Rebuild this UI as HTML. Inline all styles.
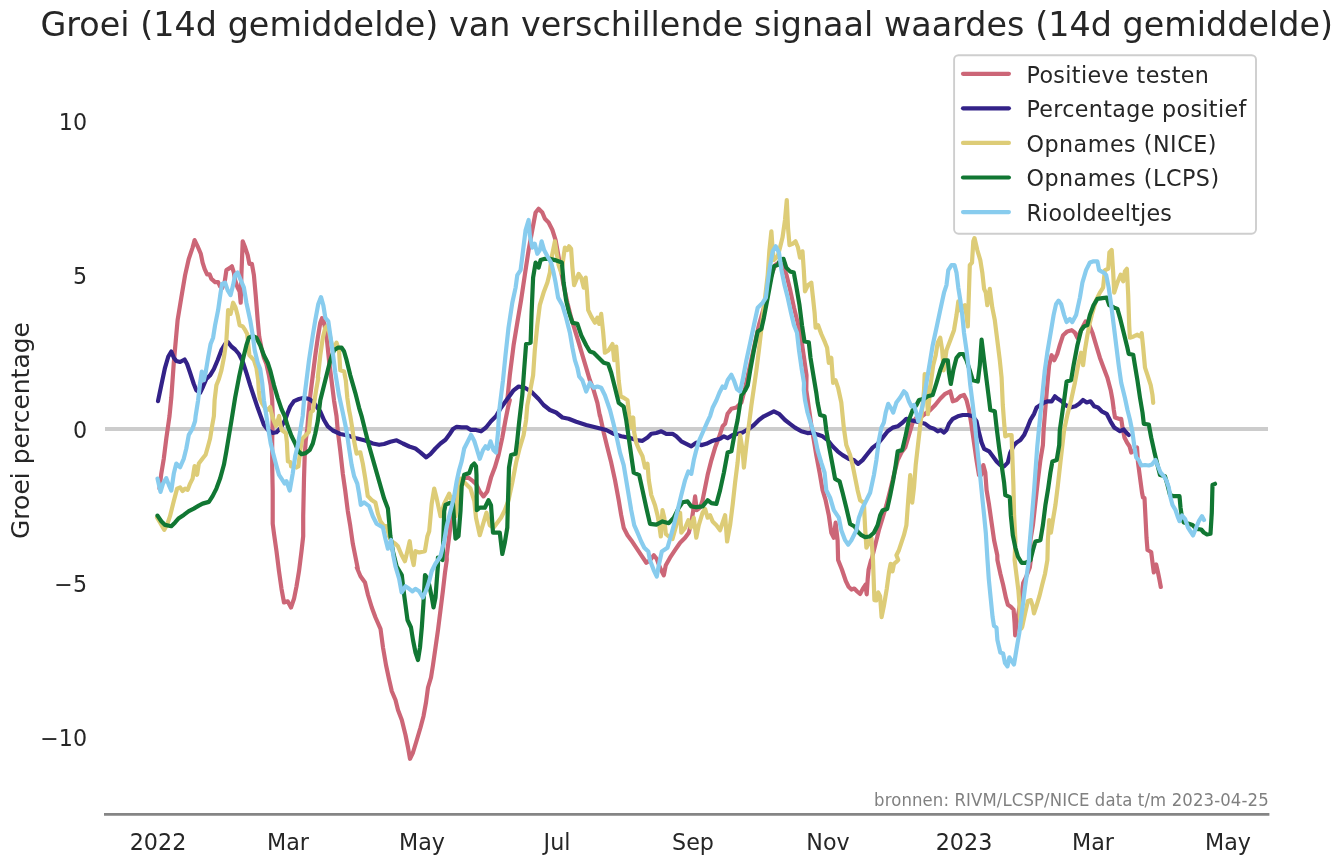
<!DOCTYPE html>
<html lang="nl"><head><meta charset="utf-8"><title>Groei signaal waardes</title>
<style>html,body{margin:0;padding:0;background:#fff;width:1342px;height:864px;overflow:hidden}</style>
</head><body>
<svg width="1342" height="864" viewBox="0 0 1342 864" style="display:block;font-family:'DejaVu Sans','Liberation Sans',sans-serif">
<rect width="1342" height="864" fill="#fff"/>
<text id="title" x="686.8" y="35.6" font-size="33.33" letter-spacing="0.045" text-anchor="middle" fill="#262626">Groei (14d gemiddelde) van verschillende signaal waardes (14d gemiddelde)</text>
<line x1="105" y1="429" x2="1268" y2="429" stroke="#cccccc" stroke-width="4"/>
<path d="M159.5,488.6 L161.3,473.6 L163.8,458.6 L166.3,438.5 L168.8,421.0 L169.5,416.1 L171.3,397.8 L173.8,362.7 L177.6,320.2 L181.3,297.6 L185.1,275.1 L188.8,258.8 L192.6,247.6 L194.6,240.1 L197.6,246.3 L200.8,253.8 L202.6,262.6 L204.6,268.9 L207.1,274.4 L209.6,274.4 L211.4,278.9 L215.1,282.1 L218.1,282.1 L220.1,286.4 L222.1,288.1 L224.6,282.6 L226.4,270.1 L229.6,268.1 L231.9,266.3 L233.9,272.6 L235.1,280.1 L237.6,287.6 L239.6,291.4 L240.7,302.7 L241.4,275.1 L242.7,241.3 L245.2,247.6 L247.7,255.1 L249.4,263.8 L251.9,263.8 L253.9,275.1 L255.7,295.1 L257.7,320.2 L259.2,336.5 L261.4,347.7 L263.9,357.7 L266.4,364.0 L268.9,375.3 L270.7,385.3 L272.2,400.3 L272.7,416.1 L272.2,441.0 L272.2,466.1 L272.7,491.1 L272.7,523.7 L274.0,533.7 L276.5,551.2 L279.0,571.2 L281.5,588.8 L284.0,602.5 L287.7,601.3 L291.0,607.5 L294.0,598.8 L296.5,586.3 L299.0,571.2 L301.5,551.2 L303.2,536.2 L303.2,516.2 L304.0,478.6 L304.7,456.1 L305.7,441.0 L307.3,428.5 L308.3,416.0 L310.3,395.3 L312.8,375.3 L315.3,355.2 L317.8,337.7 L320.3,322.7 L322.0,318.2 L324.0,322.7 L326.5,335.2 L329.0,360.2 L331.5,380.3 L334.0,400.3 L336.5,416.1 L337.8,431.0 L340.3,451.1 L342.8,473.6 L345.3,491.1 L347.8,511.1 L350.3,526.2 L352.8,543.7 L355.3,556.2 L357.8,568.7 L356.8,567.5 L360.5,576.2 L365.0,582.5 L368.0,595.0 L371.8,607.5 L375.5,617.5 L380.5,628.8 L383.0,647.5 L386.0,665.0 L389.2,680.0 L391.8,691.2 L395.5,700.0 L398.0,710.0 L401.8,720.0 L405.5,735.0 L408.0,747.5 L410.0,758.8 L413.0,752.5 L416.8,740.0 L420.5,727.5 L423.5,716.2 L426.0,702.5 L428.0,687.5 L431.0,677.5 L433.0,665.0 L435.5,647.5 L438.0,630.0 L440.5,610.0 L443.0,590.0 L445.0,572.5 L446.8,560.0 L446.7,556.2 L449.2,536.2 L451.7,516.2 L463.0,478.6 L468.0,477.3 L473.0,481.1 L476.0,483.9 L479.8,491.4 L483.5,496.4 L487.3,491.4 L491.0,477.6 L494.8,467.6 L498.5,455.1 L502.3,437.6 L505.5,420.0 L508.0,407.5 L509.8,400.0 L507.3,400.3 L509.8,375.3 L513.6,345.2 L517.3,322.7 L521.1,300.2 L524.8,275.1 L528.6,250.1 L532.3,230.0 L535.6,212.5 L538.6,208.8 L542.3,212.5 L544.9,218.8 L548.6,222.5 L552.4,230.0 L555.6,240.1 L557.4,250.1 L563.6,285.1 L567.4,302.7 L571.1,317.7 L574.9,330.2 L578.7,342.7 L582.4,355.2 L586.2,367.8 L589.9,380.3 L593.7,390.3 L597.4,402.8 L599.9,416.1 L599.9,415.0 L603.7,432.5 L607.4,447.6 L611.2,462.6 L615.0,480.1 L618.7,500.2 L621.2,515.2 L623.7,527.7 L627.5,535.2 L631.2,540.2 L636.2,547.7 L641.2,555.2 L646.3,562.7 L650.0,560.2 L653.8,555.2 L656.8,559.0 L660.0,567.8 L663.8,575.3 L665.8,565.2 L670.0,557.7 L675.0,550.2 L680.1,542.7 L685.1,537.7 L688.8,532.7 L691.3,522.7 L693.3,510.2 L695.1,496.4 L696.8,510.2 L700.1,507.7 L702.6,500.2 L705.1,487.6 L707.6,475.1 L711.4,460.1 L715.1,447.6 L718.9,437.6 L722.6,426.3 L725.1,423.8 L727.6,413.8 L731.4,408.8 L736.4,407.5 L741.4,402.5 L745.2,387.8 L758.9,325.2 L763.9,307.7 L767.7,292.6 L771.4,275.1 L775.2,265.1 L779.0,262.6 L782.7,265.1 L786.5,275.1 L790.2,290.1 L794.0,307.7 L797.7,322.7 L801.5,340.2 L804.0,357.7 L806.5,375.3 L806.3,390.0 L808.8,407.5 L811.3,425.1 L813.8,440.1 L816.3,455.1 L819.6,472.6 L822.6,490.2 L825.6,500.2 L828.8,515.2 L831.3,532.7 L833.8,537.7 L835.6,522.7 L837.6,540.2 L838.1,560.0 L841.9,569.5 L845.8,581.0 L848.6,586.7 L851.5,589.6 L854.3,588.6 L857.2,591.5 L860.1,594.0 L862.9,588.6 L865.4,584.8 L866.7,594.3 L867.7,579.1 L868.6,569.5 L871.1,560.0 L871.4,560.3 L873.9,550.2 L876.4,540.2 L878.9,530.2 L882.7,517.7 L886.4,505.2 L890.2,490.2 L893.9,475.1 L897.7,460.1 L901.4,452.6 L905.2,447.6 L908.9,435.1 L912.7,422.5 L916.5,417.5 L920.2,417.5 L925.2,413.8 L930.2,410.0 L935.2,405.0 L940.2,398.8 L945.2,393.8 L950.3,391.3 L952.8,401.3 L956.5,400.0 L960.3,396.3 L964.0,395.0 L966.5,400.0 L969.0,410.0 L971.5,425.1 L974.0,442.6 L976.5,460.1 L979.0,475.1 L981.1,475.1 L983.3,465.1 L985.3,472.6 L986.6,490.2 L989.1,505.2 L991.6,522.7 L994.1,540.2 L997.3,555.2 L997.4,560.0 L1000.3,573.4 L1003.1,584.8 L1006.0,598.2 L1007.9,604.8 L1010.8,606.7 L1013.6,609.6 L1014.6,623.0 L1015.2,635.4 L1016.5,623.0 L1021.3,598.2 L1023.2,582.9 L1026.0,577.2 L1029.8,567.6 L1030.8,560.0 L1030.4,540.2 L1032.9,525.2 L1035.4,502.7 L1037.9,480.1 L1040.4,460.1 L1042.9,445.1 L1043.6,430.3 L1045.6,405.3 L1047.3,385.2 L1049.1,365.2 L1051.6,355.2 L1054.3,360.2 L1057.3,353.9 L1059.8,345.2 L1063.1,335.2 L1067.3,331.4 L1071.6,330.2 L1074.9,332.7 L1077.4,337.7 L1081.1,330.2 L1085.6,321.4 L1089.9,326.4 L1092.4,332.7 L1096.1,345.2 L1099.9,357.7 L1103.6,367.7 L1107.4,377.7 L1110.7,390.2 L1112.5,400.0 L1113.8,410.0 L1115.0,417.5 L1118.8,418.8 L1121.2,418.8 L1122.5,427.5 L1124.5,437.5 L1127.0,442.5 L1129.5,446.2 L1131.2,452.5 L1134.5,450.0 L1137.0,447.5 L1138.0,462.5 L1140.0,477.5 L1142.0,492.5 L1143.0,497.5 L1144.5,498.0 L1145.5,517.5 L1146.5,537.5 L1147.5,550.0 L1151.2,552.0 L1152.5,562.5 L1153.8,572.5 L1156.2,564.5 L1158.0,572.5 L1159.5,580.0 L1160.8,587.0" fill="none" stroke="#CC6677" stroke-width="4.2" stroke-linejoin="round" stroke-linecap="round"/>
<path d="M158.0,401.1 L161.3,385.3 L165.0,367.8 L168.3,356.5 L171.3,351.5 L173.8,357.7 L176.3,361.0 L180.1,362.0 L184.6,359.5 L187.1,364.0 L190.1,372.8 L193.8,384.0 L196.3,390.3 L200.1,392.8 L203.1,386.5 L206.3,379.0 L210.1,375.3 L213.9,369.0 L217.6,360.2 L221.4,350.2 L225.1,344.0 L228.1,342.2 L231.4,346.5 L235.1,349.5 L238.9,354.0 L242.7,361.5 L246.4,372.8 L250.2,385.3 L253.9,396.5 L257.7,407.8 L260.7,416.1 L263.9,424.8 L267.7,429.8 L272.7,433.0 L276.5,432.3 L280.2,428.5 L283.2,423.5 L285.2,419.8 L287.7,412.8 L290.2,406.6 L294.0,401.1 L299.0,399.0 L304.0,397.8 L309.0,399.0 L312.8,401.6 L316.5,406.6 L320.3,411.6 L324.0,420.0 L327.8,426.3 L332.8,430.5 L340.3,434.0 L347.8,435.5 L355.3,438.0 L365.3,440.5 L372.8,443.5 L379.1,444.8 L384.1,444.0 L390.4,441.8 L396.6,440.3 L402.9,443.5 L409.2,446.5 L415.4,448.5 L420.4,452.3 L426.2,457.3 L430.4,454.1 L435.4,448.5 L440.5,443.5 L445.5,439.8 L449.2,434.8 L453.0,429.0 L456.7,426.8 L461.7,427.3 L466.7,427.3 L470.5,429.8 L476.0,429.8 L476.0,430.0 L481.0,431.3 L486.0,427.5 L491.0,421.3 L496.0,416.3 L501.0,407.8 L507.3,399.0 L513.6,390.3 L518.6,386.5 L524.8,387.8 L531.1,391.5 L538.6,399.0 L543.6,405.0 L549.9,410.0 L556.1,412.5 L562.4,417.5 L568.6,418.8 L576.2,421.8 L586.2,425.0 L596.2,427.5 L606.2,430.0 L613.7,433.8 L621.2,436.3 L628.7,437.6 L636.2,440.1 L642.5,440.8 L647.5,437.6 L651.3,433.8 L656.3,433.0 L661.3,431.3 L666.3,433.8 L672.5,433.8 L676.3,436.3 L681.3,441.3 L686.3,443.8 L691.3,446.3 L696.3,442.6 L701.3,445.1 L706.3,443.8 L711.4,441.3 L715.1,440.1 L720.1,438.8 L723.9,436.3 L727.6,438.1 L732.6,435.1 L737.6,433.8 L742.6,432.5 L748.9,428.8 L753.9,425.0 L758.9,420.0 L763.9,416.3 L768.9,413.8 L773.9,411.3 L779.0,413.8 L785.0,420.0 L790.0,423.8 L795.0,427.6 L801.3,431.3 L807.5,433.1 L812.5,432.6 L817.6,434.6 L822.6,436.3 L827.6,440.1 L832.6,446.3 L837.6,451.3 L842.6,455.1 L848.9,458.9 L853.9,460.1 L858.1,463.9 L862.6,460.1 L867.6,453.8 L872.6,447.6 L877.6,443.8 L882.7,437.6 L887.7,431.3 L892.7,427.6 L897.7,426.3 L902.7,422.5 L906.4,418.8 L910.2,420.0 L915.2,421.3 L920.2,422.5 L925.2,423.8 L930.2,427.6 L934.0,428.8 L937.7,431.3 L940.7,430.1 L944.0,432.6 L946.5,430.1 L949.0,423.8 L952.8,418.8 L957.8,416.3 L962.8,415.0 L967.8,415.0 L972.8,416.3 L976.5,421.3 L979.0,432.6 L981.6,442.6 L984.1,448.8 L989.1,451.3 L992.8,456.3 L996.6,461.4 L1000.3,465.1 L1004.1,466.4 L1007.8,462.6 L1010.3,452.6 L1014.1,445.1 L1016.6,442.6 L1020.4,440.1 L1024.1,435.1 L1027.9,426.3 L1030.4,420.0 L1034.1,413.8 L1036.6,407.5 L1040.4,405.0 L1044.1,402.5 L1047.9,401.3 L1051.7,401.3 L1054.9,396.3 L1057.9,398.8 L1061.7,401.3 L1065.4,405.0 L1070.4,407.5 L1075.4,406.3 L1079.2,403.8 L1083.0,400.0 L1086.7,402.5 L1090.5,401.3 L1094.2,406.3 L1098.0,407.5 L1101.7,411.3 L1106.7,413.8 L1110.5,421.3 L1114.3,427.6 L1116.2,428.8 L1120.0,431.2 L1123.8,429.5 L1126.2,432.5 L1128.8,435.0" fill="none" stroke="#332288" stroke-width="4.2" stroke-linejoin="round" stroke-linecap="round"/>
<path d="M157.0,517.4 L160.0,522.4 L164.3,529.9 L167.5,523.7 L170.0,516.2 L173.8,501.1 L177.1,488.6 L180.1,487.4 L182.6,491.1 L185.1,488.6 L187.6,489.9 L190.1,483.6 L192.6,478.6 L194.6,466.1 L197.1,474.8 L198.8,463.6 L202.6,458.6 L205.6,454.8 L208.1,446.0 L210.1,438.5 L212.1,426.0 L213.9,416.0 L214.6,400.3 L216.4,385.3 L218.9,379.0 L221.4,370.3 L223.9,357.7 L226.4,340.2 L227.6,320.2 L228.1,310.2 L230.6,313.9 L233.1,302.7 L235.6,307.7 L237.6,315.2 L239.6,325.2 L242.7,326.4 L245.2,330.2 L247.2,334.0 L248.2,344.0 L249.4,355.2 L253.9,360.2 L256.4,367.8 L258.2,380.3 L258.8,390.4 L259.8,398.8 L262.5,404.0 L266.5,410.5 L268.5,409.0 L270.2,407.1 L271.8,414.4 L273.4,419.6 L276.0,425.9 L277.5,421.7 L279.1,416.0 L280.1,423.8 L281.7,430.0 L285.9,433.2 L286.9,442.5 L287.4,453.0 L287.9,461.3 L290.5,462.3 L291.1,466.5 L293.5,465.0 L296.5,467.5 L298.4,466.5 L299.9,453.0 L301.5,442.5 L302.5,438.4 L306.7,434.2 L308.8,432.1 L309.8,421.7 L310.9,412.3 L313.0,410.7 L314.5,400.8 L316.1,390.4 L318.3,377.8 L317.8,377.8 L320.3,355.2 L322.8,337.7 L325.3,327.7 L327.8,325.2 L332.8,350.2 L336.5,342.7 L339.0,350.2 L340.3,370.3 L344.1,371.5 L345.8,380.3 L347.3,397.8 L349.1,410.3 L350.3,416.1 L352.3,428.5 L354.1,441.0 L356.6,453.6 L360.3,452.3 L362.8,463.6 L365.3,478.6 L367.8,496.1 L371.6,499.9 L375.4,502.4 L377.9,513.6 L380.4,521.2 L384.1,526.2 L386.6,526.2 L389.1,536.2 L391.6,541.2 L395.4,543.7 L397.9,546.2 L401.6,555.0 L404.9,561.2 L407.4,551.2 L409.7,541.2 L411.7,556.2 L413.7,565.0 L415.4,551.2 L419.2,552.5 L424.9,551.2 L427.4,536.2 L429.2,531.2 L431.7,503.6 L434.2,488.6 L436.7,498.6 L440.5,516.2 L444.2,503.6 L449.2,493.6 L451.7,501.1 L455.5,516.2 L458.5,491.1 L460.5,478.6 L465.5,483.6 L470.5,488.6 L474.3,501.1 L476.0,517.7 L479.8,535.2 L483.5,522.7 L486.5,512.7 L489.8,525.2 L493.5,527.7 L497.3,522.7 L501.0,517.7 L504.8,510.2 L508.5,500.2 L512.3,482.6 L516.1,462.6 L519.8,447.6 L523.6,435.1 L526.1,420.0 L527.3,405.3 L529.8,392.8 L533.1,375.3 L534.8,350.2 L537.3,325.2 L539.8,305.2 L543.6,292.6 L547.4,282.6 L549.9,272.6 L551.1,260.1 L553.1,250.1 L554.9,241.3 L556.6,252.6 L558.6,265.1 L561.1,272.6 L563.1,260.1 L564.9,247.6 L567.4,250.1 L569.1,246.3 L571.1,248.8 L572.4,267.6 L574.1,285.1 L578.7,273.9 L581.2,277.6 L583.7,287.6 L585.7,277.6 L586.9,290.1 L588.2,310.2 L591.2,316.4 L594.9,322.7 L597.4,317.7 L599.2,323.9 L601.2,313.9 L603.2,332.7 L604.9,352.7 L608.7,350.2 L612.5,344.0 L614.2,360.2 L616.2,346.5 L617.5,362.7 L618.7,380.3 L620.7,396.5 L623.7,397.8 L627.5,400.3 L629.2,415.0 L631.2,427.5 L633.2,417.5 L634.2,432.5 L636.2,442.6 L638.7,448.8 L642.5,456.3 L645.0,467.6 L647.5,463.8 L648.8,480.1 L651.3,495.1 L655.0,505.2 L657.5,515.2 L659.3,525.2 L660.8,536.5 L662.5,510.2 L664.3,517.7 L665.8,534.0 L668.8,536.5 L672.5,539.0 L676.3,525.2 L680.1,512.7 L681.3,532.7 L685.1,527.7 L688.3,520.2 L690.8,527.7 L693.8,517.7 L696.3,537.7 L698.8,525.2 L702.6,512.7 L705.1,508.9 L707.6,517.7 L710.1,515.2 L712.6,521.4 L716.4,525.2 L720.1,530.2 L722.6,522.7 L725.1,515.2 L727.1,541.5 L730.1,525.2 L732.6,505.2 L735.1,482.6 L737.6,462.6 L740.1,435.1 L742.6,450.1 L743.9,467.6 L746.4,445.1 L748.9,425.0 L751.4,405.3 L753.9,387.8 L756.4,370.3 L758.9,350.2 L767.7,275.1 L769.4,250.1 L771.4,231.3 L772.7,250.1 L773.9,260.1 L777.7,256.3 L780.0,247.6 L782.5,237.6 L785.0,220.0 L786.8,200.0 L788.0,227.6 L789.5,245.1 L792.5,243.8 L795.5,241.3 L798.0,247.6 L800.0,257.6 L802.5,251.3 L803.8,270.1 L805.0,291.4 L808.0,285.1 L811.3,282.6 L813.0,297.7 L814.6,312.7 L815.6,327.7 L818.1,325.2 L821.3,334.0 L825.1,342.7 L827.1,347.7 L828.8,362.8 L831.3,357.8 L833.1,382.8 L835.6,380.3 L838.1,387.8 L841.3,402.5 L843.8,427.6 L846.3,445.1 L850.1,455.1 L852.6,465.1 L855.1,477.6 L857.6,490.2 L860.1,500.2 L863.9,502.7 L865.1,527.7 L866.4,547.7 L868.9,542.7 L871.4,537.7 L873.0,560.0 L874.4,600.1 L876.3,600.4 L878.2,592.4 L880.1,596.2 L881.6,617.2 L883.9,605.8 L886.8,588.6 L889.1,571.4 L890.6,563.8 L892.5,571.4 L894.0,563.8 L896.3,561.9 L898.2,560.0 L896.4,555.2 L898.9,550.2 L901.4,542.7 L903.9,535.2 L906.4,525.2 L908.2,500.2 L910.2,475.1 L912.2,502.7 L914.0,487.6 L915.7,465.1 L917.7,447.6 L919.7,430.1 L921.5,415.0 L923.2,400.0 L924.0,390.3 L924.7,374.0 L925.5,375.3 L928.0,414.1 L930.2,387.8 L933.2,365.3 L935.7,355.2 L937.7,342.7 L940.2,337.7 L942.2,350.2 L943.7,370.3 L946.5,350.2 L950.3,340.2 L954.0,330.2 L956.5,315.2 L958.3,301.4 L960.3,310.2 L962.8,306.4 L964.8,305.2 L966.5,315.2 L967.8,326.5 L969.0,290.2 L969.8,265.1 L972.0,262.6 L973.3,241.3 L974.5,238.1 L977.3,250.1 L980.3,260.1 L982.3,272.6 L984.1,288.9 L985.8,292.7 L987.3,305.2 L989.8,288.9 L992.3,307.7 L994.8,320.2 L997.3,340.2 L999.8,360.3 L1001.6,377.8 L1002.8,405.0 L1004.1,422.5 L1005.3,436.3 L1008.3,435.1 L1011.6,435.1 L1012.3,455.1 L1013.4,485.1 L1014.1,515.2 L1015.4,540.2 L1014.6,560.0 L1016.5,575.3 L1018.4,590.5 L1019.4,603.9 L1019.9,617.2 L1021.3,628.7 L1022.2,626.8 L1025.1,613.4 L1027.9,601.0 L1030.8,600.1 L1032.7,605.8 L1034.0,613.4 L1036.5,605.8 L1039.4,596.2 L1042.2,584.8 L1045.1,573.4 L1047.4,560.0 L1047.9,540.2 L1049.2,520.2 L1050.9,532.7 L1052.9,520.2 L1055.4,505.2 L1057.9,485.1 L1060.4,462.6 L1064.1,430.3 L1067.3,415.3 L1071.1,400.3 L1074.9,382.7 L1078.6,362.7 L1081.1,352.7 L1083.1,365.2 L1084.9,350.2 L1087.4,335.2 L1089.9,322.6 L1092.4,312.6 L1096.1,300.1 L1099.9,292.6 L1103.1,287.6 L1104.9,270.1 L1108.2,268.8 L1109.4,252.5 L1111.7,250.0 L1113.2,272.6 L1114.2,292.6 L1117.4,282.6 L1120.7,274.6 L1123.2,281.3 L1124.9,271.3 L1126.9,268.8 L1128.2,295.1 L1129.2,325.1 L1129.9,337.7 L1133.7,336.4 L1137.4,334.7 L1140.0,336.4 L1141.7,333.2 L1143.2,347.7 L1145.0,367.7 L1147.5,375.2 L1150.7,385.2 L1152.5,395.2 L1153.2,402.8" fill="none" stroke="#DDCC77" stroke-width="4.2" stroke-linejoin="round" stroke-linecap="round"/>
<path d="M157.5,515.6 L161.3,521.2 L165.0,524.9 L171.3,526.2 L175.1,522.4 L178.8,518.2 L183.8,514.9 L188.8,511.1 L193.8,508.6 L198.8,505.6 L202.6,503.6 L208.9,501.9 L212.6,496.1 L216.4,488.6 L220.1,478.6 L223.9,464.8 L226.4,451.1 L228.9,436.0 L231.4,421.0 L235.1,397.8 L238.9,377.8 L242.7,360.2 L246.4,345.2 L248.9,337.7 L252.7,336.0 L256.4,337.7 L260.2,345.2 L263.9,355.2 L267.7,362.7 L270.2,370.3 L274.0,385.3 L277.7,397.8 L281.5,409.1 L284.7,416.1 L287.7,426.0 L291.5,436.0 L295.2,443.5 L298.2,451.1 L301.5,454.1 L305.7,453.1 L309.8,449.8 L312.8,443.5 L315.3,433.5 L317.8,421.0 L320.3,400.3 L325.3,380.3 L330.3,360.2 L334.0,350.2 L337.8,347.7 L341.6,347.7 L344.1,351.5 L346.6,360.2 L350.3,375.3 L355.3,392.8 L359.1,407.8 L361.6,416.1 L365.3,431.0 L369.1,446.0 L374.1,463.6 L379.1,481.1 L384.1,498.6 L387.9,508.6 L389.1,521.2 L390.4,536.2 L392.9,551.2 L396.6,566.2 L401.8,575.0 L403.5,590.0 L405.5,605.0 L407.5,620.0 L411.0,627.5 L413.0,640.0 L415.5,652.5 L418.0,660.0 L420.0,647.5 L421.8,627.5 L423.5,602.5 L425.0,575.0 L426.8,577.5 L429.2,585.0 L431.8,597.5 L433.5,607.5 L435.5,597.5 L436.8,580.0 L438.0,565.0 L437.9,557.5 L442.5,560.0 L443.5,533.7 L444.2,511.1 L445.5,504.9 L449.2,503.1 L453.0,503.6 L454.2,521.2 L455.5,538.7 L458.5,536.2 L460.5,511.1 L461.7,486.1 L464.2,474.8 L469.2,473.1 L471.7,466.1 L474.3,463.6 L476.0,466.1 L476.5,475.1 L476.8,510.2 L479.8,507.7 L484.8,507.7 L488.5,500.2 L491.0,505.2 L493.0,532.7 L496.0,532.7 L499.8,532.7 L502.3,554.0 L504.8,542.7 L507.3,527.7 L508.0,500.2 L509.0,467.6 L511.1,455.1 L515.6,453.8 L517.3,440.1 L519.1,422.5 L522.3,395.3 L524.1,370.3 L526.1,344.0 L530.6,342.7 L531.6,312.7 L533.1,277.6 L535.6,262.6 L538.6,267.6 L540.6,260.1 L544.9,258.8 L549.9,258.8 L554.9,260.1 L561.9,262.6 L563.6,282.6 L566.1,300.2 L569.1,312.7 L572.4,322.7 L577.4,323.9 L581.2,335.2 L586.2,345.2 L589.9,351.5 L593.7,352.7 L598.7,357.7 L603.7,362.7 L608.2,364.0 L611.2,372.8 L615.0,387.8 L618.7,402.8 L623.7,406.6 L626.2,420.0 L628.7,437.6 L631.2,455.1 L633.7,472.6 L639.2,475.1 L642.5,490.1 L646.3,507.7 L650.0,523.9 L656.3,524.7 L662.5,521.4 L668.8,523.2 L673.8,517.7 L678.8,507.7 L682.6,502.2 L687.6,501.4 L691.3,506.4 L696.3,507.2 L702.6,506.4 L707.6,500.2 L711.4,503.2 L716.4,503.9 L720.1,490.1 L723.9,472.6 L727.6,452.6 L731.4,451.3 L733.9,437.6 L737.6,420.0 L741.4,395.3 L745.2,390.3 L747.7,385.3 L750.2,370.3 L753.9,350.2 L757.7,331.4 L761.4,328.9 L763.9,317.7 L767.7,297.6 L771.4,277.6 L773.9,266.3 L777.7,265.1 L780.2,260.1 L783.5,258.8 L786.3,267.6 L790.0,271.4 L793.8,272.6 L796.3,286.4 L799.5,305.2 L802.0,325.2 L804.5,341.5 L808.8,342.2 L810.5,357.8 L813.8,377.8 L816.3,392.8 L817.6,402.5 L820.1,415.0 L824.6,416.3 L826.3,430.1 L828.8,445.1 L832.1,462.6 L835.1,478.9 L839.6,481.4 L842.6,492.7 L846.3,507.7 L850.1,524.0 L854.6,526.5 L857.6,531.5 L861.4,535.2 L865.1,537.2 L869.6,536.5 L873.9,532.7 L877.6,525.2 L880.2,515.2 L882.7,510.2 L887.2,508.9 L890.2,495.2 L893.2,480.1 L895.7,465.1 L897.7,451.3 L902.2,450.1 L905.2,437.6 L908.9,420.0 L912.7,410.0 L916.5,405.0 L919.0,400.0 L924.0,398.8 L927.7,396.3 L932.7,395.0 L936.5,382.8 L940.2,370.3 L944.0,360.3 L947.8,360.3 L949.0,372.8 L950.8,384.0 L953.3,370.3 L956.5,357.8 L959.8,354.0 L963.3,354.0 L966.5,360.3 L969.8,370.3 L972.8,380.3 L977.8,381.5 L979.8,365.3 L981.6,339.7 L984.1,360.3 L986.6,380.3 L989.1,400.0 L990.3,410.0 L994.8,411.3 L996.6,427.6 L999.1,447.6 L1001.6,465.1 L1004.1,482.6 L1005.3,495.2 L1009.8,497.2 L1010.8,515.2 L1012.8,535.2 L1015.4,547.7 L1017.9,556.5 L1021.6,562.8 L1025.4,562.8 L1030.4,560.3 L1032.9,550.2 L1035.4,541.5 L1040.4,540.2 L1042.9,525.2 L1045.4,505.2 L1047.9,490.2 L1050.4,472.6 L1052.4,461.4 L1056.7,460.1 L1059.2,445.1 L1059.8,430.3 L1062.3,412.8 L1064.8,395.2 L1066.6,381.5 L1071.1,380.2 L1073.6,365.2 L1077.4,345.2 L1081.1,330.2 L1084.1,326.4 L1087.4,325.1 L1089.9,315.1 L1093.6,305.1 L1097.4,298.9 L1102.4,298.1 L1106.7,297.6 L1109.2,305.1 L1114.2,307.6 L1117.4,308.9 L1119.9,317.6 L1123.7,332.7 L1127.4,347.7 L1128.7,353.9 L1133.2,354.7 L1134.9,365.2 L1137.4,380.2 L1140.0,397.8 L1142.5,412.5 L1143.8,423.8 L1148.8,424.5 L1151.2,437.5 L1154.5,452.5 L1157.5,465.0 L1160.0,475.0 L1165.0,476.2 L1167.5,485.0 L1170.0,495.0 L1173.8,496.2 L1179.5,496.2 L1180.5,507.5 L1182.0,517.5 L1183.8,522.5 L1188.8,523.8 L1192.5,525.0 L1196.2,528.8 L1201.2,529.5 L1203.8,532.5 L1207.0,534.5 L1210.5,533.8 L1211.8,512.5 L1212.5,485.0 L1215.0,483.8" fill="none" stroke="#117733" stroke-width="4.2" stroke-linejoin="round" stroke-linecap="round"/>
<path d="M157.5,478.6 L160.5,491.9 L163.0,483.6 L166.3,478.1 L168.8,484.9 L171.3,490.6 L173.8,473.6 L176.3,463.6 L180.1,467.3 L183.8,458.6 L186.3,448.5 L188.8,434.8 L192.6,428.5 L195.1,421.0 L195.6,416.1 L198.1,400.3 L200.1,382.8 L201.8,371.5 L203.8,380.3 L205.6,372.8 L208.1,357.7 L210.6,344.0 L213.1,337.7 L215.1,325.2 L218.1,310.2 L220.6,292.6 L222.1,283.9 L225.1,282.6 L227.6,290.1 L230.6,295.1 L233.1,285.1 L235.1,275.1 L237.6,272.6 L240.2,278.9 L243.9,287.6 L246.4,302.7 L250.2,320.2 L252.7,335.2 L254.7,350.2 L257.7,362.7 L260.2,369.0 L262.2,382.8 L263.9,400.3 L266.4,416.1 L268.2,428.5 L270.7,443.5 L273.2,453.6 L276.5,466.1 L279.0,474.8 L281.5,478.6 L284.7,483.6 L286.5,481.1 L289.7,490.6 L292.7,473.6 L295.2,456.1 L297.7,446.0 L300.2,431.0 L302.7,416.0 L304.0,400.3 L306.5,380.3 L309.0,360.2 L312.8,335.2 L315.3,320.2 L318.3,303.9 L321.0,297.1 L323.3,305.2 L325.3,317.7 L328.3,321.4 L330.3,335.2 L332.8,352.7 L335.3,372.8 L339.0,395.3 L342.8,412.8 L346.6,431.0 L349.1,448.5 L351.6,464.8 L354.1,476.1 L357.3,483.6 L359.1,493.6 L360.8,504.9 L364.1,502.4 L369.1,506.1 L372.8,516.2 L376.6,523.7 L382.9,527.4 L385.4,538.7 L387.9,548.7 L391.1,539.9 L393.4,556.2 L395.4,566.2 L399.1,578.7 L401.6,592.5 L405.4,586.3 L409.2,588.8 L412.4,591.3 L415.4,588.8 L419.2,591.3 L422.9,597.5 L426.7,588.8 L429.2,581.2 L431.7,571.2 L435.4,563.7 L440.5,556.2 L444.2,541.2 L446.7,526.2 L450.5,511.1 L454.2,496.1 L456.7,481.1 L459.2,469.8 L461.7,461.1 L464.2,448.5 L468.0,441.0 L471.0,434.8 L474.3,441.0 L476.0,446.3 L479.8,458.8 L483.0,450.1 L485.5,446.3 L488.0,448.8 L490.5,441.3 L493.5,450.1 L496.0,452.6 L498.0,432.5 L499.0,412.5 L500.5,400.3 L503.0,380.3 L505.5,355.2 L508.5,327.7 L512.3,302.7 L515.6,287.6 L517.3,275.1 L520.6,270.1 L523.1,250.1 L525.6,230.0 L528.6,220.0 L529.8,235.1 L532.3,247.6 L534.8,243.8 L537.3,253.8 L539.8,250.1 L541.6,241.3 L544.1,250.1 L547.4,256.3 L551.1,262.6 L553.6,272.6 L555.6,282.6 L558.1,297.6 L562.4,305.2 L566.1,317.7 L569.9,332.7 L572.4,347.7 L574.9,360.2 L577.4,367.8 L579.2,376.5 L582.4,380.3 L586.2,391.5 L589.9,382.8 L593.7,387.8 L597.4,386.5 L601.2,387.8 L604.9,395.3 L610.0,410.0 L613.2,422.5 L616.2,435.1 L620.0,452.6 L623.7,465.1 L626.2,480.1 L628.7,495.1 L631.2,510.2 L634.2,525.2 L637.5,532.7 L641.2,541.5 L644.3,547.7 L648.3,551.5 L650.0,560.2 L653.8,570.3 L656.8,576.5 L658.8,565.2 L661.8,551.5 L667.5,547.7 L670.0,539.0 L673.8,525.2 L677.6,510.2 L681.3,495.1 L685.1,480.1 L688.3,471.4 L691.3,473.9 L693.8,460.1 L696.3,450.1 L698.8,441.3 L703.8,430.0 L707.6,421.3 L710.1,416.1 L712.6,407.8 L716.4,400.3 L719.4,392.8 L722.6,386.5 L725.1,387.8 L727.6,380.3 L731.4,374.8 L733.9,380.3 L736.9,389.0 L740.1,391.5 L742.6,380.3 L746.4,360.2 L750.2,342.7 L753.9,325.2 L757.7,307.7 L762.7,302.7 L765.9,297.6 L767.7,282.6 L770.2,265.1 L772.7,251.3 L775.7,246.3 L779.0,252.6 L781.5,270.1 L784.5,285.1 L787.7,297.6 L791.0,312.7 L794.0,325.2 L797.0,332.7 L799.0,350.2 L801.5,367.8 L804.0,382.8 L803.8,390.0 L805.0,400.0 L807.5,412.5 L811.3,425.1 L815.1,437.6 L817.6,450.1 L821.3,462.6 L824.6,472.6 L826.3,490.2 L830.1,497.7 L833.8,510.2 L838.8,517.7 L841.3,530.2 L845.1,540.2 L848.1,544.7 L851.4,540.2 L853.9,535.2 L856.4,530.2 L858.9,517.7 L862.6,507.7 L866.4,500.2 L870.1,492.7 L873.9,475.1 L876.4,460.1 L878.9,440.1 L881.4,427.6 L883.9,422.5 L885.7,412.5 L888.2,403.8 L891.4,408.8 L893.2,412.5 L896.4,402.5 L900.2,397.5 L903.9,391.3 L906.4,393.8 L908.9,401.3 L911.4,406.3 L914.0,405.0 L916.5,413.8 L918.2,421.3 L920.2,415.0 L922.7,405.0 L925.2,390.3 L927.7,375.3 L930.2,360.3 L932.7,345.2 L936.5,327.7 L940.2,310.2 L944.0,292.7 L946.5,285.1 L948.3,270.1 L951.5,265.1 L954.5,265.1 L956.5,272.6 L958.3,287.6 L960.3,300.2 L962.3,315.2 L964.0,332.7 L966.5,350.2 L968.3,365.3 L970.3,385.3 L972.8,405.0 L974.8,422.5 L976.5,440.1 L978.5,460.1 L980.3,477.6 L982.3,497.7 L984.1,515.2 L985.8,532.7 L987.5,560.0 L988.8,579.1 L990.7,598.2 L992.6,617.2 L994.0,625.8 L996.5,627.7 L997.4,640.1 L1000.3,652.5 L1003.1,653.5 L1005.0,663.0 L1007.5,666.4 L1009.4,657.3 L1011.7,661.1 L1014.0,664.5 L1015.5,655.4 L1017.4,643.9 L1019.4,632.5 L1021.3,617.2 L1023.2,602.0 L1025.1,586.7 L1027.0,573.4 L1028.9,560.0 L1029.1,550.2 L1031.6,520.2 L1034.1,490.2 L1035.9,465.1 L1037.3,446.1 L1039.8,420.3 L1042.3,395.2 L1044.8,370.2 L1047.3,352.7 L1051.1,330.2 L1053.6,315.1 L1056.1,303.9 L1058.6,300.6 L1061.1,303.9 L1064.1,315.1 L1066.6,322.1 L1069.8,318.9 L1072.3,322.1 L1076.1,315.1 L1079.9,297.6 L1082.4,282.6 L1086.1,270.1 L1089.9,262.5 L1093.6,261.3 L1097.4,261.3 L1099.1,270.1 L1103.6,272.6 L1106.2,275.1 L1108.7,287.6 L1111.2,305.1 L1113.7,325.1 L1116.2,345.2 L1118.7,365.2 L1121.2,382.7 L1124.9,397.8 L1127.5,410.0 L1130.0,420.0 L1132.5,432.5 L1134.5,447.5 L1136.2,457.5 L1138.8,460.0 L1141.2,465.5 L1145.0,465.0 L1148.8,465.5 L1152.0,464.5 L1155.5,460.0 L1157.5,465.0 L1160.5,472.5 L1163.8,476.2 L1166.2,480.0 L1168.8,487.5 L1170.5,497.5 L1172.5,505.0 L1175.5,510.0 L1178.0,517.5 L1179.5,521.2 L1182.0,515.5 L1185.0,518.8 L1188.0,527.5 L1191.2,532.5 L1193.0,535.5 L1196.2,527.5 L1198.8,521.2 L1202.0,516.2 L1204.0,520.0" fill="none" stroke="#88CCEE" stroke-width="4.2" stroke-linejoin="round" stroke-linecap="round"/>
<line x1="104" y1="814.4" x2="1269.4" y2="814.4" stroke="#858585" stroke-width="2.9"/>
<text class="yt" x="87.1" y="129.9" font-size="22.22" text-anchor="end" fill="#262626">10</text>
<text class="yt" x="87.1" y="283.9" font-size="22.22" text-anchor="end" fill="#262626">5</text>
<text class="yt" x="87.1" y="437.9" font-size="22.22" text-anchor="end" fill="#262626">0</text>
<text class="yt" x="87.1" y="591.9" font-size="22.22" text-anchor="end" fill="#262626">−5</text>
<text class="yt" x="87.1" y="745.9" font-size="22.22" text-anchor="end" fill="#262626">−10</text>
<text class="xt" x="158" y="850" font-size="22.22" text-anchor="middle" fill="#262626">2022</text>
<text class="xt" x="288" y="850" font-size="22.22" text-anchor="middle" fill="#262626">Mar</text>
<text class="xt" x="422" y="850" font-size="22.22" text-anchor="middle" fill="#262626">May</text>
<text class="xt" x="557" y="850" font-size="22.22" text-anchor="middle" fill="#262626">Jul</text>
<text class="xt" x="693" y="850" font-size="22.22" text-anchor="middle" fill="#262626">Sep</text>
<text class="xt" x="828" y="850" font-size="22.22" text-anchor="middle" fill="#262626">Nov</text>
<text class="xt" x="964" y="850" font-size="22.22" text-anchor="middle" fill="#262626">2023</text>
<text class="xt" x="1093" y="850" font-size="22.22" text-anchor="middle" fill="#262626">Mar</text>
<text class="xt" x="1228" y="850" font-size="22.22" text-anchor="middle" fill="#262626">May</text>
<text id="ylab" transform="translate(29.4,430.5) rotate(-90)" font-size="25" text-anchor="middle" fill="#262626">Groei percentage</text>
<text id="foot" x="1268.8" y="806" font-size="18.33" letter-spacing="0.13" font-stretch="condensed" style="font-family:DejaVu Sans Condensed,DejaVu Sans,Liberation Sans,sans-serif;font-stretch:condensed" text-anchor="end" fill="#808080">bronnen: RIVM/LCSP/NICE data t/m 2023-04-25</text>
<rect x="954.1" y="55.2" width="301.9" height="178.5" rx="4.4" ry="4.4" fill="#ffffff" fill-opacity="0.8" stroke="#cecece" stroke-width="1.9"/>
<line x1="963" y1="73.80" x2="1008.9" y2="73.80" stroke="#CC6677" stroke-width="4.17" stroke-linecap="round"/>
<text class="lg" x="1026.4" y="82.60" font-size="22.22" letter-spacing="0.38" fill="#262626">Positieve testen</text>
<line x1="963" y1="108.36" x2="1008.9" y2="108.36" stroke="#332288" stroke-width="4.17" stroke-linecap="round"/>
<text class="lg" x="1026.4" y="117.22" font-size="22.22" letter-spacing="0.33" fill="#262626">Percentage positief</text>
<line x1="963" y1="142.92" x2="1008.9" y2="142.92" stroke="#DDCC77" stroke-width="4.17" stroke-linecap="round"/>
<text class="lg" x="1026.4" y="151.85" font-size="22.22" letter-spacing="0.52" fill="#262626">Opnames (NICE)</text>
<line x1="963" y1="177.48" x2="1008.9" y2="177.48" stroke="#117733" stroke-width="4.17" stroke-linecap="round"/>
<text class="lg" x="1026.4" y="186.47" font-size="22.22" letter-spacing="0.52" fill="#262626">Opnames (LCPS)</text>
<line x1="963" y1="212.04" x2="1008.9" y2="212.04" stroke="#88CCEE" stroke-width="4.17" stroke-linecap="round"/>
<text class="lg" x="1026.4" y="221.10" font-size="22.22" letter-spacing="0.23" fill="#262626">Riooldeeltjes</text>
</svg>
</body></html>
